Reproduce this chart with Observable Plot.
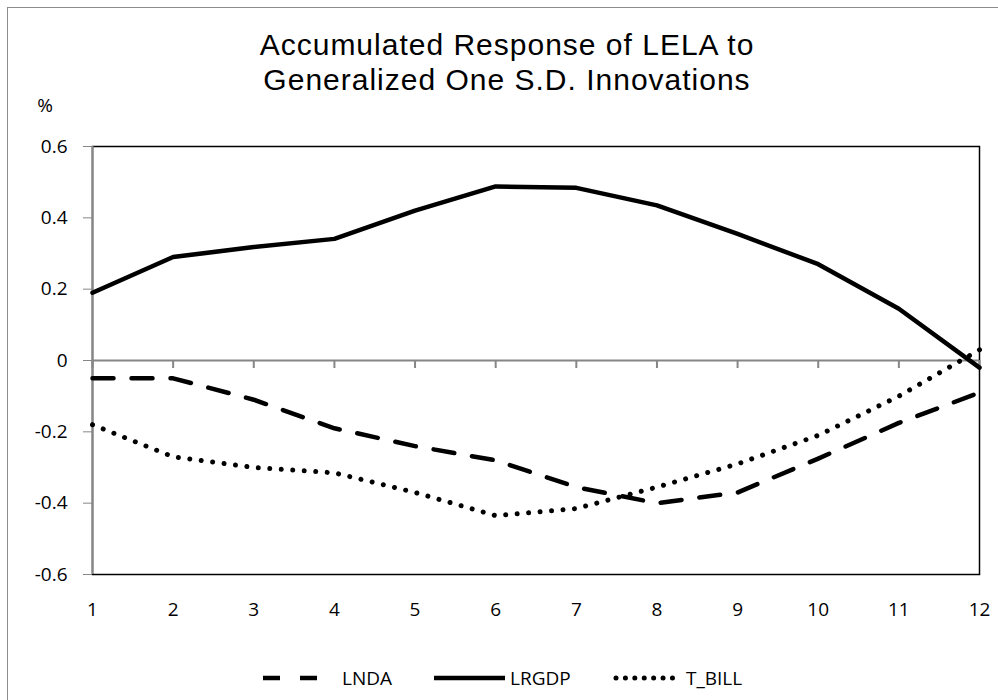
<!DOCTYPE html>
<html><head><meta charset="utf-8">
<script src="https://cdn.jsdelivr.net/npm/d3@7"></script>
<script src="https://cdn.jsdelivr.net/npm/@observablehq/plot@0.6"></script>
<style>
body{margin:0;background:#fff;}
#wrap{position:relative;width:998px;height:700px;overflow:hidden;font-family:"Open Sans",Lato,sans-serif;color:#000;}
#border{position:absolute;left:7px;top:7px;width:1000px;height:700px;border:1.5px solid #8c8c8c;box-sizing:border-box;}
#chart{position:absolute;left:0;top:0;}
#over{position:absolute;left:0;top:0;}
</style></head>
<body>
<div id="wrap"><div id="border"></div><div id="chart"></div><svg id="over" width="998" height="700"></svg></div>
<script>
const periods = [1,2,3,4,5,6,7,8,9,10,11,12];
const lnda  = [-0.05,-0.05,-0.11,-0.19,-0.24,-0.28,-0.355,-0.40,-0.37,-0.275,-0.175,-0.09];
const lrgdp = [0.19,0.29,0.318,0.341,0.42,0.488,0.484,0.435,0.355,0.27,0.145,-0.02];
const tbill = [-0.18,-0.27,-0.30,-0.315,-0.37,-0.435,-0.415,-0.355,-0.29,-0.21,-0.10,0.03];
const yTicks = [-0.6,-0.4,-0.2,0,0.2,0.4,0.6];
const titleLines = ["Accumulated Response of LELA to","Generalized One S.D. Innovations"];
const seriesNames = ["LNDA","LRGDP","T_BILL"];
const yUnit = "%";

const FONT = '"Open Sans",Lato,sans-serif';
const TITLE_FONT = '"Liberation Sans",Arial,sans-serif';
const mk = (vals) => periods.map((p,i)=>({p, v: vals[i]}));
const fmt = d => d === 0 ? "0" : d.toFixed(1);

const styles = {
  LNDA: {stroke:"#000", strokeWidth:4.5, strokeDasharray:"21,18"},
  LRGDP: {stroke:"#000", strokeWidth:4.5},
  T_BILL: {stroke:"#000", strokeWidth:5, strokeDasharray:"0.01,11.5", strokeLinecap:"round"}
};

const chart = Plot.plot({
  width: 998, height: 700,
  marginLeft: 92, marginRight: 19, marginTop: 146, marginBottom: 126,
  style: {fontFamily: FONT, fontSize: "19px", color: "#000", background: "transparent"},
  x: {domain: [1, 12], label: null},
  y: {domain: [-0.6, 0.6], label: null},
  marks: [
    Plot.frame({stroke: "#000", strokeWidth: 1.5}),
    Plot.ruleY([0], {stroke: "#868686", strokeWidth: 2}),
    Plot.ruleX(periods, {x: d => d, insetTop: 214, insetBottom: 206, stroke: "#868686", strokeWidth: 2}),
    Plot.ruleX([1], {x: d => d, stroke: "#868686", strokeWidth: 2}),
    Plot.axisY({ticks: yTicks, tickSize: 9, tickPadding: 16, tickFormat: fmt, stroke: "#868686", fill: "#000", fontSize: 19, label: null}),
    Plot.axisX({ticks: periods, tickSize: 0, tickPadding: 28, tickFormat: d => String(d), fill: "#000", fontSize: 19, label: null}),
    Plot.line(mk(lrgdp), {x: "p", y: "v", ...styles.LRGDP}),
    Plot.line(mk(lnda), {x: "p", y: "v", ...styles.LNDA}),
    Plot.line(mk(tbill), {x: "p", y: "v", ...styles.T_BILL})
  ]
});
document.getElementById("chart").appendChild(chart);

// overlay: title, unit, legend
const svg = d3.select("#over").style("font-family", FONT);
svg.selectAll("text.title").data(titleLines).join("text")
  .attr("class","title").attr("x", 507).attr("y", (d,i) => 55 + i*35)
  .attr("text-anchor","middle").attr("font-size", 30).attr("letter-spacing", "1px")
  .style("font-family", TITLE_FONT).attr("fill","#000").text(d => d);
svg.append("text").attr("x", 45).attr("y", 112).attr("text-anchor","middle")
  .attr("font-size", 19).text(yUnit);

const legend = [
  {name: seriesNames[0], x1: 263, x2: 319, tx: 342, st: {...styles.LNDA, strokeDasharray: "17,20"}},
  {name: seriesNames[1], x1: 434, x2: 505, tx: 510, st: styles.LRGDP},
  {name: seriesNames[2], x1: 616, x2: 681, tx: 686, st: {...styles.T_BILL, strokeDasharray: "0.01,9.4"}}
];
const LY = 678;
legend.forEach(l => {
  const ln = svg.append("line").attr("x1", l.x1).attr("x2", l.x2).attr("y1", LY).attr("y2", LY)
    .attr("stroke", l.st.stroke).attr("stroke-width", l.st.strokeWidth);
  if (l.st.strokeDasharray) ln.attr("stroke-dasharray", l.st.strokeDasharray);
  if (l.st.strokeLinecap) ln.attr("stroke-linecap", l.st.strokeLinecap);
  svg.append("text").attr("x", l.tx).attr("y", LY).attr("dy", "0.36em")
    .attr("font-size", 19).text(l.name);
});
</script>
</body></html>
